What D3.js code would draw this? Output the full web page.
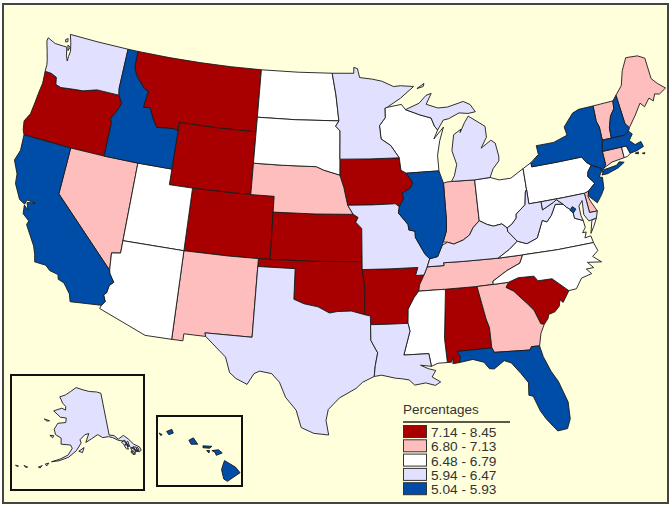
<!DOCTYPE html>
<html>
<head>
<meta charset="utf-8">
<script src="https://cdn.jsdelivr.net/npm/d3@7"></script>
<style>
  html, body { margin: 0; padding: 0; background: #fff; }
  svg { display: block; }
  text { font-family: "Liberation Sans", Arial, sans-serif; fill: #333; }
</style>
</head>
<body>
<script>
// Legend classes, highest first
var legendLabels = ["7.14 - 8.45", "6.80 - 7.13", "6.48 - 6.79", "5.94 - 6.47", "5.04 - 5.93"];
var classColors = ["#a80000", "#ffbebe", "#ffffff", "#e1e1ff", "#004da8"];
var classBreaks = [5.94, 6.48, 6.80, 7.14];

// Estimated rate per state (only the class can be read from the map)
var stateNames = ["OR","MT","WY","CO","KS","OK","AR","IA","AL","SC",
  "NV","NM","NE","IN","TN","GA","ME","VT","CT","DE",
  "ND","SD","WI","OH","PA","VA","NC","UT","AZ","MS","RI",
  "WA","MN","MI","MO","KY","WV","TX","LA","MD","AK",
  "CA","ID","IL","NY","NJ","NH","MA","FL","DC","HI"];
var stateValues = [7.5,7.6,7.4,7.3,7.3,7.5,7.7,7.3,7.6,7.5,
  7.0,6.9,6.9,7.0,7.0,6.9,6.9,6.9,6.9,7.0,
  6.6,6.6,6.6,6.6,6.5,6.6,6.6,6.6,6.7,6.7,6.5,
  6.2,6.1,6.3,6.3,6.3,6.2,6.1,6.2,6.1,6.2,
  5.7,5.8,5.8,5.5,5.6,5.7,5.5,5.8,5.2,5.4];

// State outlines as [lon, lat] rings
var stateShapes = {
  WA: [[[-122.76,49],[-120,49],[-117.03,49],[-117.04,46.42],[-116.92,45.99],[-118.98,46],[-119.3,45.93],[-120.2,45.72],[-121.2,45.65],[-122.25,45.55],[-122.76,45.65],[-122.9,46.1],[-123.45,46.25],[-124.05,46.27],[-124.07,46.7],[-124.15,46.95],[-124.4,47.5],[-124.73,48.16],[-124.7,48.38],[-123.9,48.16],[-123.1,48.15],[-122.75,48.15],[-122.55,47.6],[-122.35,47.3],[-122.35,47.6],[-122.3,47.95],[-122.5,48.5]],
       [[-123.05,48.6],[-122.85,48.7],[-122.8,48.5],[-123,48.45]],[[-122.7,48.3],[-122.45,48.2],[-122.55,47.95]]],
  OR: [[[-124.2,42],[-124.4,42.3],[-124.55,42.85],[-124.2,43.4],[-124.1,44.2],[-124.05,44.8],[-123.95,45.5],[-124.05,46.27],[-123.45,46.25],[-122.9,46.1],[-122.76,45.65],[-122.25,45.55],[-121.2,45.65],[-120.2,45.72],[-119.3,45.93],[-118.98,46],[-116.92,45.99],[-116.5,45.5],[-116.85,44.9],[-117.2,44.4],[-117.03,44.2],[-117.03,42],[-120,42]]],
  CA: [[[-124.2,42],[-120,42],[-120,39],[-114.63,35],[-114.57,34.8],[-114.14,34.3],[-114.43,34.05],[-114.53,33.55],[-114.72,33.4],[-114.5,33],[-114.72,32.72],[-117.12,32.53],[-117.3,33],[-117.9,33.6],[-118.4,33.75],[-118.5,34.03],[-119.2,34.15],[-119.6,34.42],[-120.5,34.45],[-120.65,34.9],[-120.9,35.4],[-121.9,36.6],[-121.8,36.85],[-122.4,37.2],[-122.5,37.75],[-122.1,37.5],[-122.35,37.95],[-121.7,38.05],[-122.4,38.1],[-122.5,37.8],[-123,38],[-123.7,38.9],[-123.8,39.5],[-124.35,40.3],[-124.1,41]]],
  NV: [[[-120,42],[-117.03,42],[-114.04,42],[-114.04,37],[-114.04,36.2],[-114.75,36.1],[-114.63,35],[-120,39]]],
  ID: [[[-117.03,49],[-116.05,49],[-116.05,48],[-115.7,47.45],[-114.7,46.7],[-114.35,46.65],[-114.5,45.55],[-113.9,45.6],[-113.45,44.95],[-113,44.45],[-111.5,44.55],[-111.05,44.48],[-111.05,42],[-114.04,42],[-117.03,42],[-117.03,44.2],[-117.2,44.4],[-116.85,44.9],[-116.5,45.5],[-116.92,45.99],[-117.04,46.42]]],
  MT: [[[-116.05,49],[-113,49],[-110,49],[-107,49],[-104.05,49],[-104.05,45],[-107.5,45],[-111.05,45],[-111.05,44.48],[-111.5,44.55],[-113,44.45],[-113.45,44.95],[-113.9,45.6],[-114.5,45.55],[-114.35,46.65],[-114.7,46.7],[-115.7,47.45],[-116.05,48]]],
  WY: [[[-111.05,45],[-107.5,45],[-104.05,45],[-104.05,41],[-107.5,41],[-111.05,41]]],
  UT: [[[-114.04,42],[-111.05,42],[-111.05,41],[-109.05,41],[-109.05,37],[-114.04,37]]],
  CO: [[[-109.05,41],[-105.5,41],[-102.05,41],[-102.05,37],[-105.5,37],[-109.05,37]]],
  AZ: [[[-114.04,37],[-109.05,37],[-109.05,31.33],[-111.07,31.33],[-114.81,32.5],[-114.72,32.72],[-114.5,33],[-114.72,33.4],[-114.53,33.55],[-114.43,34.05],[-114.14,34.3],[-114.57,34.8],[-114.63,35],[-114.75,36.1],[-114.04,36.2]]],
  NM: [[[-109.05,37],[-105.5,37],[-103,37],[-103.04,32],[-106.62,32],[-106.53,31.78],[-108.2,31.78],[-108.2,31.33],[-109.05,31.33]]],
  ND: [[[-104.05,49],[-100.5,49],[-97.23,49],[-96.85,47.6],[-96.56,45.94],[-100.5,45.94],[-104.05,45.94]]],
  SD: [[[-104.05,45.94],[-100.5,45.94],[-96.56,45.94],[-96.85,45.6],[-96.45,45.3],[-96.45,43.5],[-96.45,42.49],[-97.9,42.8],[-98.5,43],[-101.5,43],[-104.05,43]]],
  NE: [[[-104.05,43],[-101.5,43],[-98.5,43],[-97.9,42.8],[-96.45,42.49],[-96.1,41.7],[-95.9,41],[-95.77,40.58],[-95.31,40],[-98.5,40],[-102.05,40],[-102.05,41],[-104.05,41]]],
  KS: [[[-102.05,40],[-98.5,40],[-95.31,40],[-94.9,39.8],[-95.1,39.5],[-94.61,39.1],[-94.62,37],[-98.5,37],[-102.05,37]]],
  OK: [[[-103,37],[-102.05,37],[-98.5,37],[-94.62,37],[-94.62,36.5],[-94.43,35.4],[-94.48,33.64],[-95.5,33.88],[-96.6,33.85],[-97.2,33.75],[-98.1,34.13],[-99.2,34.3],[-100,34.56],[-100,36.5],[-103,36.5]]],
  TX: [[[-106.62,32],[-103.04,32],[-103,36.5],[-100,36.5],[-100,34.56],[-99.2,34.3],[-98.1,34.13],[-97.2,33.75],[-96.6,33.85],[-95.5,33.88],[-94.48,33.64],[-94.04,33.55],[-94.04,33],[-94.04,32],[-93.55,31.2],[-93.75,30.4],[-93.85,29.7],[-94.7,29.35],[-95.2,28.95],[-96.4,28.35],[-97.2,27.6],[-97.35,26.9],[-97.15,25.96],[-98.2,26.05],[-99.1,26.4],[-99.5,27.5],[-100.3,28.3],[-100.8,29.25],[-101.4,29.77],[-102.3,29.88],[-102.7,29.7],[-103.15,28.98],[-104,29.3],[-104.5,29.65],[-104.9,30.6],[-106,31.4],[-106.53,31.78]]],
  MN: [[[-97.23,49],[-95.15,49],[-95.15,49.38],[-94.8,49.3],[-94.6,48.72],[-93.4,48.6],[-92.5,48.45],[-91.4,48.07],[-90.75,48.1],[-89.5,48],[-90.8,47.3],[-92.1,46.75],[-92.3,46.7],[-92.3,46.1],[-92.85,45.6],[-92.75,44.75],[-91.9,44.3],[-91.2,43.5],[-93.8,43.5],[-96.45,43.5],[-96.45,45.3],[-96.85,45.6],[-96.56,45.94],[-96.85,47.6]]],
  IA: [[[-96.45,43.5],[-93.8,43.5],[-91.2,43.5],[-91.1,42.7],[-90.65,42.5],[-90.15,41.9],[-90.35,41.55],[-91.1,41.25],[-91,40.9],[-91.4,40.4],[-91.72,40.6],[-93.7,40.58],[-95.77,40.58],[-95.9,41],[-96.1,41.7],[-96.45,42.49]]],
  MO: [[[-95.77,40.58],[-93.7,40.58],[-91.72,40.6],[-91.4,40.4],[-91.5,40],[-90.75,39.25],[-90.7,38.9],[-90.2,38.8],[-90.2,38.4],[-89.5,37.3],[-89.15,37],[-89.4,36.5],[-89.7,36],[-90.37,36],[-90.15,36.5],[-92.4,36.5],[-94.62,36.5],[-94.62,37],[-94.61,39.1],[-95.1,39.5],[-94.9,39.8],[-95.31,40]]],
  AR: [[[-94.62,36.5],[-92.4,36.5],[-90.15,36.5],[-90.37,36],[-89.7,36],[-90.1,35.4],[-90.2,35],[-90.6,34.6],[-91.1,33.9],[-91.17,33],[-92.6,33],[-94.04,33],[-94.04,33.55],[-94.48,33.64],[-94.43,35.4]]],
  LA: [[[-94.04,33],[-92.6,33],[-91.17,33],[-91.05,32.5],[-91.6,31],[-89.73,31],[-89.6,30.18],[-90.4,30.3],[-89.85,30.05],[-89.3,29.9],[-89.6,29.5],[-89,29.15],[-89.4,28.95],[-90.1,29.15],[-90.9,29.05],[-91.3,29.4],[-91.85,29.5],[-92.3,29.55],[-93.3,29.77],[-93.85,29.7],[-93.75,30.4],[-93.55,31.2],[-94.04,32]]],
  MS: [[[-90.2,35],[-88.2,35],[-88.1,34.9],[-88.47,31.9],[-88.4,30.35],[-89.1,30.35],[-89.6,30.18],[-89.73,31],[-91.6,31],[-91.05,32.5],[-91.17,33],[-91.1,33.9],[-90.6,34.6]]],
  TN: [[[-89.4,36.5],[-88.05,36.5],[-88.07,36.68],[-86.5,36.65],[-83.68,36.6],[-81.68,36.59],[-82,36.1],[-83.1,35.75],[-84.3,35.2],[-84.32,34.99],[-85.6,34.98],[-88.2,35],[-90.2,35],[-90.1,35.4],[-89.7,36]]],
  AL: [[[-88.2,35],[-85.6,34.98],[-85.18,32.87],[-85,32.3],[-85,31],[-87.6,31],[-87.4,30.65],[-87.52,30.28],[-88,30.25],[-87.95,30.65],[-88.1,30.35],[-88.4,30.35],[-88.47,31.9],[-88.1,34.9]]],
  GA: [[[-85.6,34.98],[-84.32,34.99],[-83.1,35],[-83.35,34.7],[-82.8,34.4],[-81.9,33.5],[-81.45,33],[-81.1,32.1],[-80.85,32.03],[-81.2,31.5],[-81.45,30.72],[-82.05,30.75],[-82.2,30.55],[-84.86,30.7],[-85,31],[-85,32.3],[-85.18,32.87]]],
  FL: [[[-87.6,31],[-85,31],[-84.86,30.7],[-82.2,30.55],[-82.05,30.75],[-81.45,30.72],[-81.3,30],[-80.9,29],[-80.5,28.3],[-80.05,26.9],[-80.1,25.8],[-80.4,25.2],[-81.1,25.15],[-81.75,26],[-82.1,26.6],[-82.45,27.6],[-82.75,27.7],[-82.65,28.5],[-83.1,29.15],[-83.7,29.9],[-84.2,30.1],[-85,29.65],[-85.35,29.7],[-85.7,30.15],[-86.5,30.4],[-87.52,30.28],[-87.4,30.65]]],
  SC: [[[-83.1,35],[-82.3,35.2],[-81.05,35.15],[-80.8,34.82],[-79.68,34.8],[-78.55,33.87],[-79.15,33.2],[-79.35,33.4],[-79.5,33],[-79.9,32.7],[-80.4,32.6],[-80.5,32.35],[-80.85,32.03],[-81.1,32.1],[-81.45,33],[-81.9,33.5],[-82.8,34.4],[-83.35,34.7]]],
  NC: [[[-84.32,34.99],[-83.1,35],[-82.3,35.2],[-81.05,35.15],[-80.8,34.82],[-79.68,34.8],[-78.55,33.87],[-77.95,33.9],[-77.4,34.5],[-76.55,34.65],[-76.9,35],[-76.3,35],[-76.7,35.4],[-75.6,35.25],[-76.2,35.7],[-75.7,36],[-75.9,36.55],[-78.8,36.55],[-81.68,36.59],[-82,36.1],[-83.1,35.75],[-84.3,35.2]]],
  VA: [[[-83.68,36.6],[-81.68,36.59],[-78.8,36.55],[-75.9,36.55],[-76,37],[-76.5,36.95],[-76.3,37.3],[-76.6,37.3],[-76.3,37.6],[-76.35,38.05],[-77,38.3],[-77.04,38.79],[-77.5,39.1],[-77.72,39.32],[-78.35,39.4],[-78.85,38.75],[-79.3,38.4],[-79.65,38.55],[-80.3,37.5],[-81.2,37.25],[-81.95,37.5],[-82.7,37.05]],
       [[-75.95,37.15],[-75.6,37.55],[-75.25,38.03],[-75.65,37.95]]],
  WV: [[[-81.95,37.5],[-81.2,37.25],[-80.3,37.5],[-79.65,38.55],[-79.3,38.4],[-78.85,38.75],[-78.35,39.4],[-77.72,39.32],[-78.2,39.68],[-78.45,39.55],[-79.48,39.2],[-79.48,39.72],[-80.52,39.72],[-80.52,40.64],[-80.65,40.5],[-80.85,39.7],[-81.7,39.2],[-81.75,38.95],[-82.2,38.6],[-82.6,38.42],[-82.6,38.2]]],
  KY: [[[-89.15,37],[-89.4,36.5],[-88.05,36.5],[-88.07,36.68],[-86.5,36.65],[-83.68,36.6],[-82.7,37.05],[-81.95,37.5],[-82.6,38.2],[-82.6,38.42],[-83,38.72],[-83.7,38.65],[-84.2,38.8],[-84.82,39.1],[-85.4,38.7],[-85.75,38.27],[-86.3,38],[-87.1,37.8],[-87.6,37.95],[-88.05,37.8],[-88.5,37.1]]],
  IL: [[[-90.65,42.5],[-87.8,42.5],[-87.5,41.7],[-87.53,39.35],[-87.6,38.7],[-87.95,38],[-88.05,37.8],[-88.5,37.1],[-89.15,37],[-89.5,37.3],[-90.2,38.4],[-90.2,38.8],[-90.7,38.9],[-90.75,39.25],[-91.5,40],[-91.4,40.4],[-91,40.9],[-91.1,41.25],[-90.35,41.55],[-90.15,41.9]]],
  IN: [[[-87.5,41.7],[-87.2,41.75],[-86.8,41.76],[-84.8,41.7],[-84.82,39.1],[-85.4,38.7],[-85.75,38.27],[-86.3,38],[-87.1,37.8],[-87.6,37.95],[-87.95,38],[-87.6,38.7],[-87.53,39.35]]],
  OH: [[[-84.8,41.7],[-83.45,41.73],[-82.7,41.5],[-81.7,41.5],[-80.52,41.98],[-80.52,40.64],[-80.65,40.5],[-80.85,39.7],[-81.7,39.2],[-81.75,38.95],[-82.2,38.6],[-82.6,38.42],[-83,38.72],[-83.7,38.65],[-84.2,38.8],[-84.82,39.1]]],
  MI: [[[-86.8,41.76],[-84.8,41.7],[-83.45,41.73],[-83.1,42.25],[-82.5,42.7],[-82.45,43],[-82.6,43.85],[-82.95,44.07],[-83.9,43.65],[-83.3,44.3],[-83.3,45],[-84.7,45.78],[-85.1,45.4],[-85.6,44.8],[-85.5,45],[-86.2,44.7],[-86.5,43.7],[-86.2,42.8],[-86.5,42.1]],
       [[-90.4,46.55],[-89.1,46.9],[-88.4,47.37],[-87.9,47.47],[-88.45,46.8],[-87.4,46.5],[-86.5,46.5],[-85,46.75],[-84.4,46.5],[-84,46],[-84.7,45.95],[-85.5,46.05],[-86.5,45.75],[-87,45.7],[-87.6,45.1],[-87.85,45.35],[-88.1,45.9],[-89.1,46.15]],
       [[-89.2,47.85],[-88.5,48.15],[-88.6,47.95]]],
  WI: [[[-92.1,46.75],[-90.75,46.9],[-90.4,46.55],[-89.1,46.15],[-88.1,45.9],[-87.85,45.35],[-87.6,45.1],[-88,44.55],[-87.05,45.25],[-87.5,44.4],[-87.8,43.5],[-87.8,42.5],[-90.65,42.5],[-91.1,42.7],[-91.2,43.5],[-91.9,44.3],[-92.75,44.75],[-92.85,45.6],[-92.3,46.1],[-92.3,46.7]]],
  PA: [[[-80.52,41.98],[-79.76,42.27],[-79.76,42],[-77.5,42],[-75.35,42],[-75.05,41.6],[-74.7,41.36],[-75.1,41],[-75.2,40.7],[-74.75,40.2],[-75.4,39.8],[-75.79,39.72],[-77.5,39.72],[-79.48,39.72],[-80.52,39.72],[-80.52,40.64]]],
  NY: [[[-79.76,42.27],[-79,42.7],[-79.05,43.27],[-77.5,43.27],[-76.2,43.55],[-76.3,44.1],[-75.3,44.85],[-74.7,45],[-73.35,45],[-73.4,44],[-73.25,43.6],[-73.27,42.75],[-73.5,42.05],[-73.49,41.2],[-73.7,41],[-73.95,40.75],[-73.9,41],[-74.7,41.36],[-75.05,41.6],[-75.35,42],[-77.5,42],[-79.76,42]],
       [[-74,40.6],[-73.7,40.9],[-72.6,40.98],[-72.3,41.15],[-71.9,41.05],[-72.5,40.8],[-73.5,40.6]]],
  NJ: [[[-74.7,41.36],[-73.9,41],[-74.25,40.5],[-74,40.45],[-74.1,39.75],[-74.4,39.4],[-74.9,38.95],[-75.5,39.5],[-75.4,39.8],[-74.75,40.2],[-75.2,40.7],[-75.1,41]]],
  DE: [[[-75.79,39.72],[-75.4,39.8],[-75.55,39.45],[-75.4,39.1],[-75.05,38.45],[-75.7,38.46]]],
  MD: [[[-79.48,39.72],[-77.5,39.72],[-75.79,39.72],[-75.7,38.46],[-75.05,38.45],[-75.25,38.03],[-75.9,37.95],[-76.2,38.4],[-76.1,39.3],[-76.45,39],[-76.45,38.4],[-76.35,38.05],[-77,38.3],[-77.04,38.79],[-77.5,39.1],[-77.72,39.32],[-78.2,39.68],[-78.45,39.55],[-79.48,39.2]]],
  DC: [[[-77.25,38.85],[-77,39.05],[-76.75,38.85],[-77,38.65]]],
  CT: [[[-73.5,42.05],[-71.8,42.02],[-71.8,41.33],[-72.9,41.25],[-73.7,41],[-73.49,41.2]]],
  RI: [[[-71.8,42.02],[-71.38,42.02],[-71.2,41.5],[-71.5,41.35],[-71.8,41.33]]],
  MA: [[[-73.5,42.05],[-73.27,42.75],[-71.3,42.7],[-70.85,42.88],[-70.6,42.65],[-71,42.3],[-70.6,41.95],[-70.05,42.05],[-69.95,41.7],[-70.6,41.55],[-71.2,41.5],[-71.38,42.02],[-71.8,42.02]],
       [[-70.8,41.42],[-70.5,41.45],[-70.55,41.33]],[[-70.2,41.3],[-69.98,41.3],[-70.05,41.22]]],
  VT: [[[-73.35,45],[-71.5,45],[-71.6,44.5],[-72.05,44.1],[-72.4,43.4],[-72.46,42.73],[-73.27,42.75],[-73.25,43.6],[-73.4,44]]],
  NH: [[[-71.5,45],[-71.1,45.3],[-70.98,43.4],[-70.7,43.08],[-70.85,42.88],[-71.3,42.7],[-72.46,42.73],[-72.4,43.4],[-72.05,44.1],[-71.6,44.5]]],
  ME: [[[-71.1,45.3],[-70.4,45.8],[-69.95,46.7],[-69.3,47.45],[-68.2,47.35],[-67.6,47.07],[-67.6,45.7],[-67.2,45.3],[-66.6,44.85],[-67.3,44.6],[-67.7,44.7],[-68,44.3],[-68.3,44.55],[-68.9,44.1],[-69.2,44.4],[-69.9,43.75],[-70.7,43.08],[-70.98,43.4]]],
  AK: [[[-141,69.65],[-143.5,70.1],[-148,70.4],[-152,70.85],[-156.6,71.35],[-160,70.4],[-163,69.5],[-166.2,68.9],[-163.9,67.6],[-162,67],[-161.8,66.2],[-164,66.5],[-168,65.6],[-164,64.5],[-161,64.5],[-161,63.5],[-164.8,63.1],[-166,61.7],[-165,60.6],[-162.3,60],[-162,58.7],[-158,58.7],[-157.2,58],[-158.7,56.5],[-161.5,55.5],[-164.8,54.6],[-162,55.05],[-158.5,56],[-155.5,57.5],[-153.5,59.2],[-154,59.9],[-151.8,61],[-150,61.2],[-151.5,59.3],[-149,60],[-146,60.8],[-144,60],[-141.4,60],[-139.7,59.6],[-137.5,58.7],[-135.5,58.3],[-133.5,56.5],[-131,55],[-130,55.2],[-130.2,56],[-132,57],[-133.5,58.5],[-135,59.5],[-137.5,59],[-139,60],[-141,60.3]],
       [[-154.5,57.4],[-152.3,58.2],[-153,57.1]],[[-171.7,63.4],[-169,63.3],[-170.2,63.1]],[[-167.4,60.2],[-165.7,60.3],[-166,59.8]],
       [[-166.9,53.9],[-165.7,54.2],[-166.3,53.5]],[[-169.2,52.9],[-167.9,53.4],[-168.5,52.8]],[[-174.3,52.4],[-172.9,52.3],[-173.5,52.1]],[[-177.2,51.9],[-176.1,51.9],[-176.6,51.7]],
       [[-136.5,58.2],[-135,58.4],[-134.9,57.5],[-135.7,57.4]],[[-135.8,57.3],[-134.7,57.4],[-134.6,56.3],[-135.3,56.5]],[[-134.6,57.9],[-133.9,58],[-133.9,56.9],[-134.5,56.9]],[[-133.6,56.4],[-132.6,56.4],[-132.2,55.2],[-133.3,55]],[[-132.5,56.5],[-131.5,56.2],[-131.3,55.2],[-132,55.3]],[[-134,55.6],[-133,55.7],[-132.6,54.8],[-133.5,54.9]],[[-131.6,56],[-130.9,56],[-130.8,55.3],[-131.4,55.3]]],
  HI: [[[-155.85,20.27],[-155.1,19.85],[-154.8,19.5],[-155.65,18.95],[-155.9,19.1],[-156.05,19.7]],[[-156.7,20.9],[-156.25,20.95],[-156,20.75],[-156.4,20.6],[-156.5,20.8]],[[-157.05,20.9],[-156.85,20.9],[-156.9,20.75]],[[-157.3,21.2],[-156.7,21.17],[-156.85,21.05],[-157.3,21.08]],[[-158.25,21.55],[-157.95,21.7],[-157.65,21.3],[-158.1,21.3]],[[-159.75,22.1],[-159.4,22.23],[-159.3,22],[-159.6,21.9]],[[-160.25,22],[-160.05,21.9],[-160.15,21.85]]]
};

var svgWidth = 672;
var svgHeight = 508;

var svg = d3.select("body").append("svg")
  .attr("width", svgWidth)
  .attr("height", svgHeight);

// page background and outer frame
svg.append("rect").attr("width", svgWidth).attr("height", svgHeight).attr("fill", "#ffffff");
svg.append("rect").attr("x", 3).attr("y", 4).attr("width", 665).attr("height", 499)
  .attr("fill", "#ffffdc").attr("stroke", "#444").attr("stroke-width", 2);

var classScale = d3.scaleThreshold().domain(classBreaks).range(classColors.slice().reverse());

// build one feature per state, wound the way d3.geo wants it
var features = stateNames.map(function(name, i) {
  var polys = stateShapes[name].map(function(ring) {
    var closed = ring.concat([ring[0]]);
    if (d3.geoArea({type: "Polygon", coordinates: [closed]}) > 2 * Math.PI) closed.reverse();
    return [closed];
  });
  return {type: "Feature", id: name, value: stateValues[i], geometry: {type: "MultiPolygon", coordinates: polys}};
});

var lower48 = d3.geoConicEqualArea().parallels([29.5, 45.5]).rotate([96, 0]).center([0, 38])
  .scale(897).translate([345, 246]);
var alaska = d3.geoConicEqualArea().parallels([55, 65]).rotate([154, 0]).center([0, 64])
  .scale(262).translate([80, 421]);
var hawaii = d3.geoMercator().center([-157.5, 21]).scale(850).translate([200, 449]);

function drawStates(list, projection) {
  var path = d3.geoPath(projection);
  svg.append("g").selectAll("path").data(list).join("path")
    .attr("d", path)
    .attr("fill", function(d) { return classScale(d.value); })
    .attr("stroke", "#1a1a1a")
    .attr("stroke-width", 0.9)
    .attr("stroke-linejoin", "round");
}

drawStates(features.filter(function(d) { return d.id !== "AK" && d.id !== "HI"; }), lower48);

// inset boxes
svg.append("rect").attr("x", 11).attr("y", 375).attr("width", 133).attr("height", 115)
  .attr("fill", "none").attr("stroke", "#111").attr("stroke-width", 2);
svg.append("rect").attr("x", 157).attr("y", 416).attr("width", 85).attr("height", 70)
  .attr("fill", "none").attr("stroke", "#111").attr("stroke-width", 2);
drawStates(features.filter(function(d) { return d.id === "AK"; }), alaska);
drawStates(features.filter(function(d) { return d.id === "HI"; }), hawaii);

// legend
var legend = svg.append("g");
var rowY = d3.scaleLinear().domain([0, legendLabels.length]).range([425, 496.5]);
legend.append("text").attr("x", 403).attr("y", 414).attr("font-size", 13.5).text("Percentages");
legend.append("line").attr("x1", 403).attr("x2", 510).attr("y1", 422).attr("y2", 422)
  .attr("stroke", "#222").attr("stroke-width", 1.5);
legend.selectAll("rect").data(legendLabels).join("rect")
  .attr("x", 403.5)
  .attr("y", function(d, i) { return rowY(i) + 0.5; })
  .attr("width", 23)
  .attr("height", 12)
  .attr("fill", function(d, i) { return classColors[i]; })
  .attr("stroke", "#333");
legend.selectAll("text.lab").data(legendLabels).join("text")
  .attr("class", "lab")
  .attr("x", 431)
  .attr("y", function(d, i) { return rowY(i) + 12; })
  .attr("font-size", 13.7)
  .text(function(d) { return d; });
</script>
</body>
</html>
